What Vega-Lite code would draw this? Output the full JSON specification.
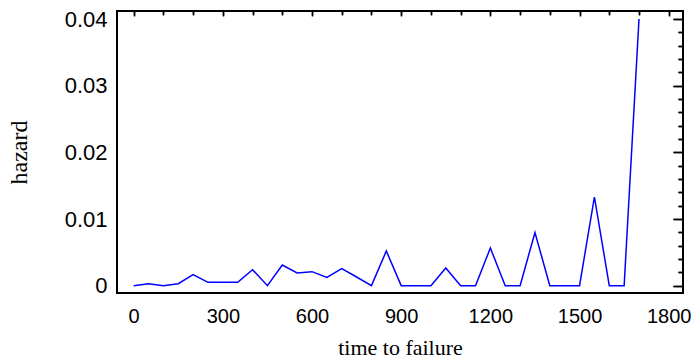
{
  "$schema": "https://vega.github.io/schema/vega-lite/v6.json",
  "autosize": "none",
  "padding": {"left": 117, "top": 11, "right": 9, "bottom": 71},
  "width": 566,
  "height": 282,
  "background": "white",
  "config": {
    "view": {"stroke": "#000", "strokeWidth": 2},
    "axis": {"grid": false, "domain": false, "tickColor": "#000", "tickWidth": 1.5, "labelColor": "#000", "titleColor": "#000"}
  },
  "data": {
    "values": [
      {"t": 0, "h": 0}, {"t": 50, "h": 0.0003}, {"t": 100, "h": 0}, {"t": 150, "h": 0.0003},
      {"t": 200, "h": 0.00165}, {"t": 250, "h": 0.0005}, {"t": 300, "h": 0.0005}, {"t": 350, "h": 0.0005},
      {"t": 400, "h": 0.0024}, {"t": 450, "h": 0}, {"t": 500, "h": 0.0031}, {"t": 550, "h": 0.0019},
      {"t": 600, "h": 0.0021}, {"t": 650, "h": 0.00125}, {"t": 700, "h": 0.00255}, {"t": 750, "h": 0.0013},
      {"t": 800, "h": 0}, {"t": 850, "h": 0.0052}, {"t": 900, "h": 0}, {"t": 950, "h": 0},
      {"t": 1000, "h": 0}, {"t": 1050, "h": 0.00265}, {"t": 1100, "h": 0}, {"t": 1150, "h": 0},
      {"t": 1200, "h": 0.00565}, {"t": 1250, "h": 0}, {"t": 1300, "h": 0}, {"t": 1350, "h": 0.00796},
      {"t": 1400, "h": 0}, {"t": 1450, "h": 0}, {"t": 1500, "h": 0}, {"t": 1550, "h": 0.0133},
      {"t": 1600, "h": 0}, {"t": 1650, "h": 0}, {"t": 1700, "h": 0.04}
    ]
  },
  "resolve": {"axis": {"x": "independent", "y": "independent"}},
  "layer": [
    {
      "mark": {"type": "line", "color": "#0000ff", "strokeWidth": 1.5},
      "encoding": {
        "x": {"field": "t", "type": "quantitative", "scale": {"domain": [-56, 1848], "nice": false, "zero": false},
          "axis": {"values": [0, 300, 600, 900, 1200, 1500, 1800], "format": "d", "ticks": false, "labelFont": "Liberation Sans", "labelFontSize": 20, "labelPadding": 13,
            "title": "time to failure", "titleFont": "Liberation Serif", "titleFontSize": 22, "titleFontWeight": "normal", "titlePadding": 11}},
        "y": {"field": "h", "type": "quantitative", "scale": {"domain": [-0.0011, 0.0412], "nice": false, "zero": false},
          "axis": {"values": [0, 0.01, 0.02, 0.03, 0.04], "labelExpr": "datum.value == 0 ? '0' : format(datum.value, '.2f')", "ticks": false, "labelFont": "Liberation Sans", "labelFontSize": 22, "labelPadding": 10,
            "title": "hazard", "titleFont": "Liberation Serif", "titleFontSize": 24, "titleFontWeight": "normal", "titlePadding": 33}}
      }
    },
    {
      "mark": {"type": "line", "opacity": 0},
      "encoding": {
        "x": {"field": "t", "type": "quantitative", "axis": {"values": [0, 300, 600, 900, 1200, 1500, 1800], "labels": false, "tickSize": -5, "title": null}},
        "y": {"field": "h", "type": "quantitative", "axis": {"values": [0, 0.01, 0.02, 0.03, 0.04], "labels": false, "tickSize": -10, "title": null}}
      }
    },
    {
      "mark": {"type": "line", "opacity": 0},
      "encoding": {
        "x": {"field": "t", "type": "quantitative", "axis": {"values": [100, 200, 400, 500, 700, 800, 1000, 1100, 1300, 1400, 1600, 1700], "labels": false, "tickSize": -3, "title": null}},
        "y": {"field": "h", "type": "quantitative", "axis": {"values": [0.002, 0.004, 0.006, 0.008, 0.012, 0.014, 0.016, 0.018, 0.022, 0.024, 0.026, 0.028, 0.032, 0.034, 0.036, 0.038], "labels": false, "tickSize": -5, "title": null}}
      }
    },
    {
      "mark": {"type": "line", "opacity": 0},
      "encoding": {
        "x": {"field": "t", "type": "quantitative", "axis": {"orient": "top", "values": [0, 100, 200, 300, 400, 500, 600, 700, 800, 900, 1000, 1100, 1200, 1300, 1400, 1500, 1600, 1700, 1800], "labels": false, "tickSize": -4, "title": null}},
        "y": {"field": "h", "type": "quantitative", "axis": {"orient": "right", "values": [0, 0.01, 0.02, 0.03, 0.04], "labels": false, "tickSize": -10, "title": null}}
      }
    },
    {
      "mark": {"type": "line", "opacity": 0},
      "encoding": {
        "x": {"field": "t", "type": "quantitative", "axis": null},
        "y": {"field": "h", "type": "quantitative", "axis": {"orient": "right", "values": [0.002, 0.004, 0.006, 0.008, 0.012, 0.014, 0.016, 0.018, 0.022, 0.024, 0.026, 0.028, 0.032, 0.034, 0.036, 0.038], "labels": false, "tickSize": -5, "title": null}}
      }
    }
  ]
}
